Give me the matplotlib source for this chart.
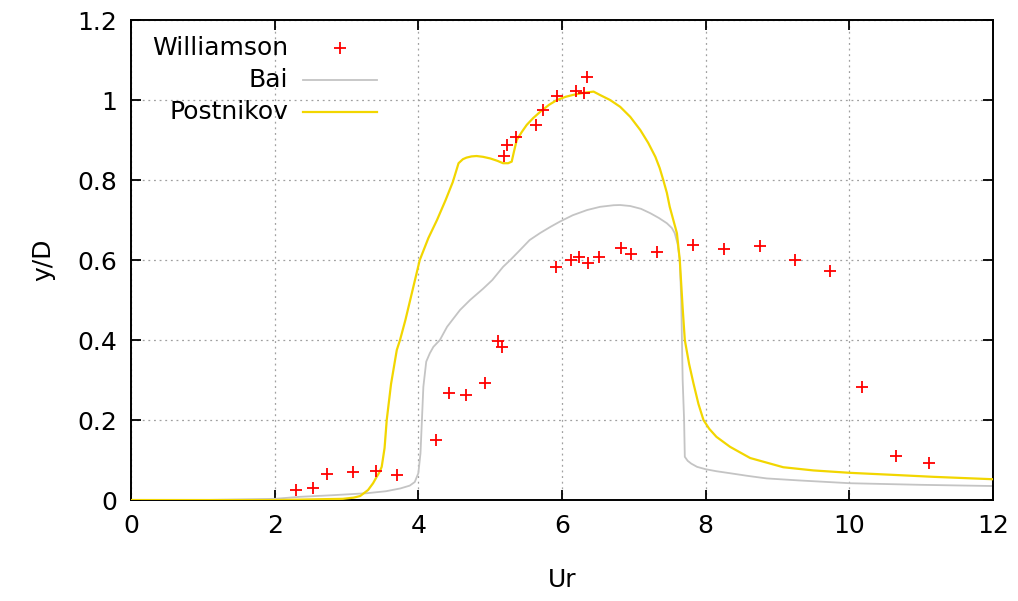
import matplotlib
matplotlib.use('Agg')
import matplotlib.pyplot as plt
from matplotlib.ticker import MultipleLocator

# Williamson experimental points
will_ur = [2.29, 2.53, 2.73, 3.09, 3.41, 3.70, 4.25, 4.43, 4.66, 4.93, 5.11, 5.16,
           5.19, 5.23, 5.36, 5.64, 5.73, 5.93, 6.19, 6.30, 6.35,
           5.91, 6.13, 6.23, 6.36, 6.52, 6.82, 6.96, 7.32, 7.83, 8.26, 8.75, 9.25, 9.73,
           10.17, 10.65, 11.11]
will_y = [0.025, 0.029, 0.065, 0.071, 0.073, 0.062, 0.150, 0.267, 0.262, 0.293, 0.398, 0.383,
          0.860, 0.888, 0.908, 0.938, 0.975, 1.010, 1.023, 1.018, 1.057,
          0.583, 0.600, 0.608, 0.592, 0.608, 0.629, 0.614, 0.619, 0.638, 0.627, 0.635, 0.600, 0.573,
          0.283, 0.110, 0.093]

# Bai simulation
bai_ur = [0.0, 1.0, 2.0, 2.35, 2.8, 3.28, 3.55, 3.75, 3.88, 3.95, 4.0, 4.03, 4.07, 4.11,
          4.16, 4.21, 4.30, 4.40, 4.58, 4.72, 4.90, 5.03, 5.18, 5.28, 5.40, 5.55, 5.70,
          5.84, 5.97, 6.15, 6.35, 6.53, 6.72, 6.81, 6.95, 7.10, 7.23, 7.35, 7.46, 7.53,
          7.57, 7.61, 7.64, 7.66, 7.67, 7.68, 7.70, 7.71, 7.75, 7.80, 7.88, 8.0, 8.15,
          8.34, 8.60, 8.85, 9.3, 10.01, 11.0, 12.0]
bai_y = [0.0, 0.0, 0.003, 0.008, 0.012, 0.017, 0.022, 0.029, 0.036, 0.045, 0.067, 0.117,
         0.283, 0.346, 0.367, 0.383, 0.400, 0.433, 0.475, 0.500, 0.528, 0.550, 0.583,
         0.600, 0.622, 0.650, 0.668, 0.683, 0.696, 0.712, 0.725, 0.733, 0.737, 0.7375,
         0.735, 0.728, 0.717, 0.705, 0.692, 0.680, 0.667, 0.640, 0.600, 0.500, 0.400,
         0.300, 0.200, 0.108, 0.098, 0.091, 0.083, 0.077, 0.072, 0.067, 0.060, 0.054,
         0.049, 0.042, 0.038, 0.035]

# Postnikov simulation
post_ur = [0.0, 2.0, 2.95, 3.10, 3.19, 3.30, 3.37, 3.42, 3.46, 3.49, 3.53, 3.56, 3.62,
           3.70, 3.745, 3.82, 3.90, 4.02, 4.14, 4.26, 4.38, 4.48, 4.56, 4.62, 4.67, 4.74,
           4.81, 4.90, 5.0, 5.10, 5.18, 5.25, 5.30, 5.33, 5.37, 5.44, 5.51, 5.60, 5.70,
           5.82, 5.93, 6.05, 6.16, 6.30, 6.44, 6.53, 6.67, 6.81, 6.95, 7.09, 7.20, 7.30,
           7.36, 7.41, 7.46, 7.50, 7.55, 7.60, 7.64, 7.68, 7.71, 7.77, 7.83, 7.90, 7.97,
           8.05, 8.15, 8.34, 8.62, 9.08, 9.5, 10.01, 10.6, 11.17, 12.0]
post_y = [0.0, 0.0, 0.003, 0.006, 0.010, 0.025, 0.042, 0.058, 0.070, 0.083, 0.130, 0.200,
          0.290, 0.375, 0.400, 0.450, 0.510, 0.600, 0.655, 0.700, 0.750, 0.795, 0.842,
          0.852, 0.856, 0.859, 0.860, 0.858, 0.854, 0.848, 0.842, 0.842, 0.846, 0.870,
          0.900, 0.920, 0.938, 0.955, 0.971, 0.988, 1.000, 1.008, 1.013, 1.018, 1.021,
          1.0125, 1.000, 0.983, 0.958, 0.925, 0.893, 0.858, 0.830, 0.800, 0.768, 0.733,
          0.700, 0.667, 0.600, 0.480, 0.400, 0.340, 0.292, 0.240, 0.200, 0.178, 0.158,
          0.133, 0.105, 0.082, 0.074, 0.068, 0.063, 0.058, 0.052]

plt.rcParams['font.family'] = ['DejaVu Sans']

fig = plt.figure(figsize=(10.18, 6.01), dpi=100)
ax = fig.add_axes([0.1287, 0.168, 0.8467, 0.7987])

ax.plot(bai_ur, bai_y, color='#c4c4c4', linewidth=1.3, zorder=2)
ax.plot(post_ur, post_y, color='#f2d600', linewidth=1.6, zorder=3)
ax.plot(will_ur, will_y, linestyle='none', marker='+', color='#ff0000',
        markersize=9, markeredgewidth=1.3, zorder=4)

ax.set_xlim(0, 12)
ax.set_ylim(0, 1.2)
ax.xaxis.set_major_locator(MultipleLocator(2))
ax.set_yticks([0, 0.2, 0.4, 0.6, 0.8, 1.0, 1.2])
ax.set_yticklabels(['0', '0.2', '0.4', '0.6', '0.8', '1', '1.2'])

ax.grid(True, color='#a0a0a0', linestyle=(0, (1.5, 3)), linewidth=0.9)
ax.tick_params(direction='in', length=7, width=1.3, top=True, right=True,
               labelsize=18, pad=10)
for s in ax.spines.values():
    s.set_linewidth(1.4)

ax.set_xlabel('Ur', fontsize=18, labelpad=22)
ax.set_ylabel('y/D', fontsize=18, labelpad=16)

# legend, gnuplot style: label right-aligned, sample on the right
rows = [0.942, 0.875, 0.808]
names = ['Williamson', 'Bai', 'Postnikov']
for yy, name in zip(rows, names):
    ax.text(0.182, yy, name, transform=ax.transAxes, ha='right', va='center', fontsize=18)
ax.plot([0.242], [rows[0]], transform=ax.transAxes, linestyle='none', marker='+',
        color='#ff0000', markersize=9, markeredgewidth=1.3)
ax.plot([0.2, 0.285], [rows[1], rows[1]], transform=ax.transAxes, color='#c4c4c4', linewidth=1.3)
ax.plot([0.2, 0.285], [rows[2], rows[2]], transform=ax.transAxes, color='#f2d600', linewidth=1.6)

fig.savefig('out.png', dpi=100)
